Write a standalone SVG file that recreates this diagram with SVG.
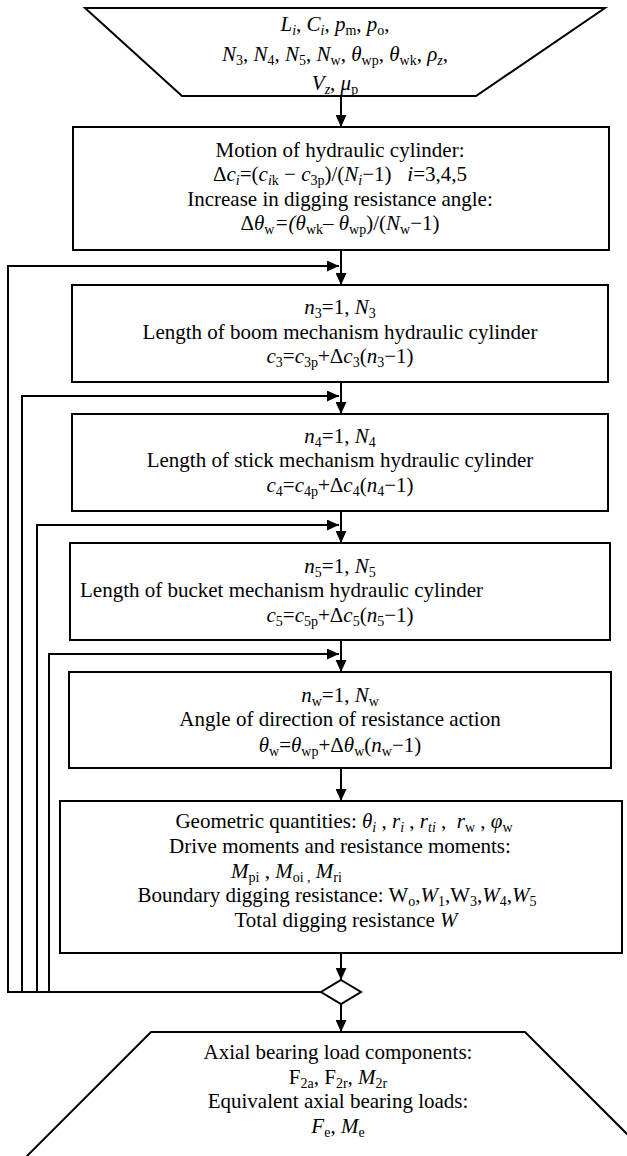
<svg xmlns="http://www.w3.org/2000/svg" width="627" height="1156" viewBox="0 0 627 1156">
<style>
.b{fill:#fff;stroke:#000;stroke-width:2}
.c{fill:none;stroke:#000;stroke-width:2}
text{font-family:"Liberation Serif","Times New Roman",serif;font-size:21px;fill:#000;text-anchor:middle}
.l{text-anchor:start}
.i{font-style:italic}
.s{font-size:14px;baseline-shift:-4px}
</style>
<defs>
<marker id="ah" markerUnits="userSpaceOnUse" markerWidth="12" markerHeight="11" refX="12" refY="5.5" orient="auto">
<path d="M0,0 L12,5.5 L0,11 Z" fill="#000"/>
</marker>
</defs>
<rect width="627" height="1156" fill="#fff"/>

<g id="input">
<polygon class="b" points="85,8 605,8 476,96 182,96"/>
<text x="335" y="31"><tspan class="i">L</tspan><tspan class="s i">i</tspan>, <tspan class="i">C</tspan><tspan class="s i">i</tspan>, <tspan class="i">p</tspan><tspan class="s">m</tspan>, <tspan class="i">p</tspan><tspan class="s">o</tspan>,</text>
<text x="335" y="61"><tspan class="i">N</tspan><tspan class="s">3</tspan>, <tspan class="i">N</tspan><tspan class="s">4</tspan>, <tspan class="i">N</tspan><tspan class="s">5</tspan>, <tspan class="i">N</tspan><tspan class="s">w</tspan>, <tspan class="i">θ</tspan><tspan class="s">wp</tspan>, <tspan class="i">θ</tspan><tspan class="s">wk</tspan>, <tspan class="i">ρ</tspan><tspan class="s i">z</tspan>,</text>
<text x="335" y="90"><tspan class="i">V</tspan><tspan class="s i">z</tspan>, <tspan class="i">μ</tspan><tspan class="s">p</tspan></text>
</g>

<g id="motion">
<rect class="b" x="73" y="127" width="536" height="123"/>
<text x="340" y="157">Motion of hydraulic cylinder:</text>
<text x="340" y="181">Δ<tspan class="i">c</tspan><tspan class="s i">i</tspan>=(<tspan class="i">c</tspan><tspan class="s i">i</tspan><tspan class="s">k</tspan> − <tspan class="i">c</tspan><tspan class="s">3p</tspan>)/(<tspan class="i">N</tspan><tspan class="s i">i</tspan>−1)&#160;&#160;&#160;<tspan class="i">i</tspan>=3,4,5</text>
<text x="340" y="206">Increase in digging resistance angle:</text>
<text x="340" y="230">Δ<tspan class="i">θ</tspan><tspan class="s">w</tspan><tspan class="i">=(θ</tspan><tspan class="s">wk</tspan>– <tspan class="i">θ</tspan><tspan class="s">wp</tspan>)/(<tspan class="i">N</tspan><tspan class="s">w</tspan>−1)</text>
</g>

<g id="boom">
<rect class="b" x="72" y="285" width="536" height="97"/>
<text x="340" y="314"><tspan class="i">n</tspan><tspan class="s">3</tspan>=1, <tspan class="i">N</tspan><tspan class="s">3</tspan></text>
<text x="340" y="339">Length of boom mechanism hydraulic cylinder</text>
<text x="340" y="363"><tspan class="i">c</tspan><tspan class="s">3</tspan>=<tspan class="i">c</tspan><tspan class="s">3p</tspan>+Δ<tspan class="i">c</tspan><tspan class="s">3</tspan>(<tspan class="i">n</tspan><tspan class="s">3</tspan>−1)</text>
</g>

<g id="stick">
<rect class="b" x="72" y="414" width="536" height="97"/>
<text x="340" y="443"><tspan class="i">n</tspan><tspan class="s">4</tspan>=1, <tspan class="i">N</tspan><tspan class="s">4</tspan></text>
<text x="340" y="467">Length of stick mechanism hydraulic cylinder</text>
<text x="340" y="492"><tspan class="i">c</tspan><tspan class="s">4</tspan>=<tspan class="i">c</tspan><tspan class="s">4p</tspan>+Δ<tspan class="i">c</tspan><tspan class="s">4</tspan>(<tspan class="i">n</tspan><tspan class="s">4</tspan>−1)</text>
</g>

<g id="bucket">
<rect class="b" x="70" y="543" width="540" height="97"/>
<text x="340" y="573"><tspan class="i">n</tspan><tspan class="s">5</tspan>=1, <tspan class="i">N</tspan><tspan class="s">5</tspan></text>
<text class="l" x="80" y="597">Length of bucket mechanism hydraulic cylinder</text>
<text x="340" y="622"><tspan class="i">c</tspan><tspan class="s">5</tspan>=<tspan class="i">c</tspan><tspan class="s">5p</tspan>+Δ<tspan class="i">c</tspan><tspan class="s">5</tspan>(<tspan class="i">n</tspan><tspan class="s">5</tspan>−1)</text>
</g>

<g id="angle">
<rect class="b" x="69" y="672" width="542" height="96"/>
<text x="340" y="702"><tspan class="i">n</tspan><tspan class="s">w</tspan>=1, <tspan class="i">N</tspan><tspan class="s">w</tspan></text>
<text x="340" y="726">Angle of direction of resistance action</text>
<text x="340" y="752"><tspan class="i">θ</tspan><tspan class="s">w</tspan>=<tspan class="i">θ</tspan><tspan class="s">wp</tspan>+Δ<tspan class="i">θ</tspan><tspan class="s">w</tspan>(<tspan class="i">n</tspan><tspan class="s">w</tspan>−1)</text>
</g>

<g id="compute">
<rect class="b" x="60" y="801" width="562" height="152"/>
<text x="344" y="828">Geometric quantities: <tspan class="i">θ</tspan><tspan class="s i">i</tspan> , <tspan class="i">r</tspan><tspan class="s i">i</tspan> , <tspan class="i">r</tspan><tspan class="s i">ti</tspan> ,&#160; <tspan class="i">r</tspan><tspan class="s">w</tspan> , <tspan class="i">φ</tspan><tspan class="s">w</tspan></text>
<text x="340" y="853">Drive moments and resistance moments:</text>
<text class="l" x="231" y="878"><tspan class="i">M</tspan><tspan class="s">pi</tspan> , <tspan class="i">M</tspan><tspan class="s">oi ,</tspan> <tspan class="i">M</tspan><tspan class="s">ri</tspan></text>
<text x="337" y="902">Boundary digging resistance: W<tspan class="s">o</tspan>,<tspan class="i">W</tspan><tspan class="s">1</tspan>,W<tspan class="s">3</tspan>,<tspan class="i">W</tspan><tspan class="s">4</tspan>,<tspan class="i">W</tspan><tspan class="s">5</tspan></text>
<text x="346" y="927">Total digging resistance <tspan class="i">W</tspan></text>
</g>

<g id="decision">
<polygon class="b" points="341,980 361,992 341,1004 321,992"/>
</g>

<g id="output">
<polygon class="b" points="151,1032 525,1032 655,1162 21,1162"/>
<text x="338" y="1059">Axial bearing load components:</text>
<text x="338" y="1084">F<tspan class="s">2a</tspan>, F<tspan class="s">2r</tspan>, <tspan class="i">M</tspan><tspan class="s">2r</tspan></text>
<text x="338" y="1108">Equivalent axial bearing loads:</text>
<text x="338" y="1133"><tspan class="i">F</tspan><tspan class="s">e</tspan>, <tspan class="i">M</tspan><tspan class="s">e</tspan></text>
</g>

<g id="connectors">
<path class="c" d="M341,96 V127" marker-end="url(#ah)"/>
<path class="c" d="M341,250 V285" marker-end="url(#ah)"/>
<path class="c" d="M341,382 V414" marker-end="url(#ah)"/>
<path class="c" d="M341,511 V543" marker-end="url(#ah)"/>
<path class="c" d="M341,640 V672" marker-end="url(#ah)"/>
<path class="c" d="M341,768 V801" marker-end="url(#ah)"/>
<path class="c" d="M341,953 V980" marker-end="url(#ah)"/>
<path class="c" d="M341,1004 V1032" marker-end="url(#ah)"/>
<path class="c" d="M321,992 H8 V266 H339" marker-end="url(#ah)"/>
<path class="c" d="M321,992 H22 V396 H339" marker-end="url(#ah)"/>
<path class="c" d="M321,992 H37 V525 H339" marker-end="url(#ah)"/>
<path class="c" d="M321,992 H49 V654 H339" marker-end="url(#ah)"/>
</g>
</svg>
